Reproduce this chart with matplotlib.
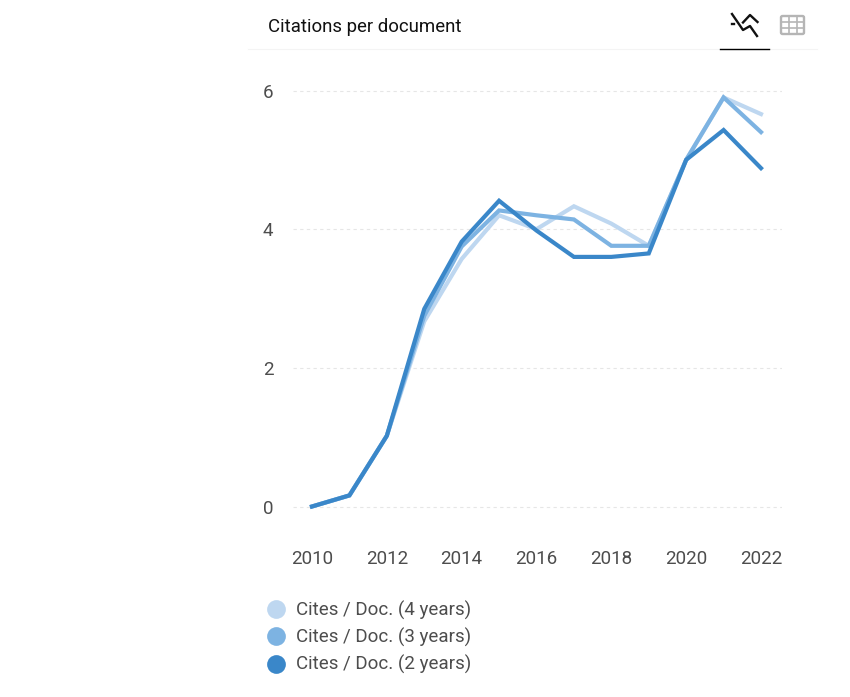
import matplotlib
matplotlib.use("Agg")
import matplotlib.pyplot as plt
from matplotlib.lines import Line2D
from matplotlib.patches import FancyBboxPatch

W, H = 850, 697
years = list(range(2010, 2023))
cites_4y = [0, 0.16, 1.02, 2.67, 3.57, 4.20, 4.00, 4.33, 4.08, 3.76, 5.00, 5.90, 5.66]
cites_3y = [0, 0.16, 1.02, 2.75, 3.75, 4.27, 4.20, 4.14, 3.76, 3.76, 5.00, 5.90, 5.40]
cites_2y = [0, 0.16, 1.02, 2.85, 3.82, 4.41, 3.98, 3.60, 3.60, 3.65, 5.00, 5.43, 4.88]
labels = ["Cites / Doc. (4 years)", "Cites / Doc. (3 years)", "Cites / Doc. (2 years)"]
colors = ["#bed7f0", "#7db3e2", "#3a87c9"]
title = "Citations per document"
xticks = [2010, 2012, 2014, 2016, 2018, 2020, 2022]
yticks = [0, 2, 4, 6]

plt.rcParams["font.family"] = ["Roboto", "DejaVu Sans"]
fig = plt.figure(figsize=(W / 100, H / 100), dpi=100)

def px(x, y):
    return x / W, 1 - y / H

L, R, T, B = 293, 782, 70, 528
ax = fig.add_axes([L / W, 1 - B / H, (R - L) / W, (B - T) / H])
ppx = (761 - 312) / 12
ppy = (506.5 - 90.5) / 6
ax.set_xlim(2010 + (L - 312) / ppx, 2010 + (R - 312) / ppx)
ax.set_ylim((506.5 - B) / ppy, (506.5 - T) / ppy)

for s in ax.spines.values():
    s.set_visible(False)
ax.set_yticks(yticks)
ax.set_xticks(xticks)
ax.tick_params(length=0, labelsize=13.5, labelcolor="#4d4d4d")
ax.tick_params(axis="x", pad=16)
ax.tick_params(axis="y", pad=14)
ax.grid(axis="y", color="#e6e6e6", lw=0.8, ls=(0, (3, 3)))
ax.set_axisbelow(True)

for vals, c in zip([cites_4y, cites_3y, cites_2y], colors):
    ax.plot(years, vals, color=c, lw=3, solid_joinstyle="miter", clip_on=False)

handles = [Line2D([], [], ls="", marker="o", ms=13.5, color=c, mew=0) for c in colors]
fig.legend(handles, labels, loc="upper left", bbox_to_anchor=(257 / W, 1 - 594.5 / H),
           frameon=False, fontsize=13.5, labelcolor="#4d4d4d", handletextpad=0.4,
           labelspacing=0.42, borderpad=0.35, borderaxespad=0, handlelength=1.33)

fig.text(*px(268, 26.5), title, fontsize=13.45, color="#111111", va="center", ha="left")

def seg(x0, y0, x1, y1, color, lw):
    fig.add_artist(Line2D([x0 / W, x1 / W], [1 - y0 / H, 1 - y1 / H], color=color, lw=lw,
                          transform=fig.transFigure))

# header rule and active-tab underline
seg(248, 49, 817, 49, "#f4f4f4", 0.8)
seg(720, 49, 769, 49, "#000000", 1.0)

# line-chart icon
def poly(xs, ys, color, lw):
    fig.add_artist(Line2D([x / W for x in xs], [1 - y / H for y in ys], color=color, lw=lw,
                          transform=fig.transFigure))
poly([732, 743, 750, 757], [14, 30, 26, 36], "#111111", 1.7)
poly([743, 750, 757.5], [22.5, 15, 22], "#111111", 1.7)
seg(731.5, 24, 733.5, 24, "#111111", 1.7)

# table icon
gc = "#b5b5b5"
fig.add_artist(FancyBboxPatch((781 / W, 1 - 34 / H), 23 / W, 18 / H, transform=fig.transFigure,
                              boxstyle="round,pad=0,rounding_size=0.002", fc="none", ec=gc, lw=1.7))
for x in (788.5, 796.5):
    seg(x, 16, x, 34, gc, 1.2)
for y in (22, 28):
    seg(781, y, 804, y, gc, 1.2)

fig.savefig("out.png", dpi=100, facecolor="white")
